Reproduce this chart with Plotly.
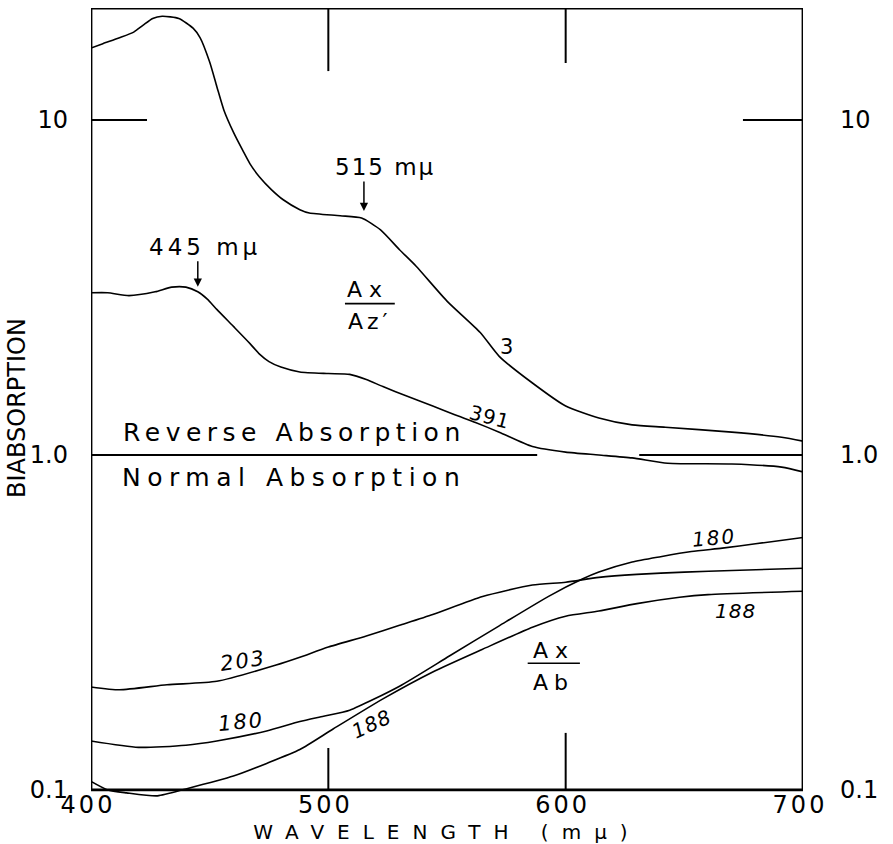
import math
import plotly.graph_objects as go

# ---------------- data ----------------
# Ax/Az' curves
wl_3 = [400, 405, 412, 418, 422, 426, 430, 437, 443, 446, 450, 453, 456, 460, 464, 467, 471, 476,
        481, 488, 492, 505, 514, 522, 530, 537, 550, 564, 572, 586, 600, 614, 628, 642, 670, 691, 700]
biab_3 = [16.4, 16.9, 17.6, 18.3, 19.2, 20.1, 20.4, 20.1, 18.8, 17.6, 14.9, 12.6, 10.7, 9.2, 8.1,
          7.4, 6.76, 6.2, 5.78, 5.4, 5.28, 5.18, 5.10, 4.7, 4.1, 3.66, 2.88, 2.32, 1.97, 1.64,
          1.40, 1.29, 1.23, 1.21, 1.17, 1.13, 1.10]

wl_391 = [400, 407, 416, 427, 434, 440, 445, 449, 453, 460, 467, 471, 475, 480, 488, 500, 509, 516,
          523, 533, 544, 553, 562, 572, 586, 600, 614, 628, 643, 670, 691, 700]
biab_391 = [3.05, 3.05, 2.99, 3.07, 3.17, 3.17, 3.07, 2.92, 2.72, 2.42, 2.15, 2.0, 1.9, 1.83,
            1.77, 1.75, 1.74, 1.68, 1.60, 1.50, 1.40, 1.32, 1.25, 1.17, 1.06, 1.02, 1.00, 0.98,
            0.945, 0.94, 0.92, 0.89]

# Ax/Ab curves
wl_203 = [400, 412, 432, 453, 478, 488, 500, 516, 530, 544, 565, 586, 600, 614, 630, 650, 670, 700]
biab_203 = [0.203, 0.199, 0.206, 0.211, 0.236, 0.249, 0.267, 0.288, 0.31, 0.334, 0.378, 0.409,
            0.417, 0.431, 0.44, 0.447, 0.452, 0.459]

wl_180 = [400, 420, 440, 453, 474, 488, 498, 509, 530, 551, 572, 593, 607, 614, 628, 640, 653, 666,
          680, 700]
biab_180 = [0.140, 0.134, 0.136, 0.140, 0.150, 0.160, 0.166, 0.173, 0.204, 0.251, 0.309, 0.379,
            0.426, 0.447, 0.479, 0.497, 0.515, 0.527, 0.543, 0.567]

wl_188 = [400, 407, 415, 428, 440, 460, 474, 488, 502, 523, 544, 565, 586, 600, 614, 630, 648, 660, 700]
biab_188 = [0.106, 0.100, 0.098, 0.096, 0.1007, 0.110, 0.120, 0.132, 0.152, 0.187, 0.225, 0.263,
            0.306, 0.330, 0.342, 0.36, 0.376, 0.383, 0.392]

x_ticks = [400, 500, 600, 700]
x_tick_labels = ["400", "500", "600", "700"]
y_ticks = [0.1, 1, 10]
y_tick_labels = ["0.1", "1.0", "10"]

# ---------------- styling ----------------
FONT = "DejaVu Sans"
Y_TOP = 21.6
Y_BOTTOM = 0.0946


def sp(text, ls):
    return f"<span style='letter-spacing:{ls}px'>{text}</span>"


fig = go.Figure()
line_style = dict(color="black", width=1.6, shape="spline", smoothing=0.6)
for wl, val, name in [(wl_3, biab_3, "3"), (wl_391, biab_391, "391"),
                      (wl_203, biab_203, "203"), (wl_180, biab_180, "180"),
                      (wl_188, biab_188, "188")]:
    fig.add_trace(go.Scatter(x=wl, y=val, mode="lines", line=line_style, name=name,
                             showlegend=False, hoverinfo="x+y+name"))

# carrier trace for the right-hand axis labels
fig.add_trace(go.Scatter(x=wl_3, y=biab_3, yaxis="y2", mode="lines", opacity=0,
                         showlegend=False, hoverinfo="skip"))

LY = math.log10
shapes = []
# frame (shape coordinates are data values on the log axis)
shapes.append(dict(type="rect", xref="x", yref="y", x0=400, x1=700, y0=0.1, y1=Y_TOP,
                   line=dict(color="black", width=2.8)))
tick = dict(color="black", width=2)
# inner tick marks
shapes += [
    dict(type="line", xref="x", yref="y", x0=400, x1=423.6, y0=10, y1=10, line=tick),
    dict(type="line", xref="x", yref="y", x0=674.7, x1=700, y0=10, y1=10, line=tick),
    dict(type="line", xref="x", yref="y", x0=400, x1=588, y0=1, y1=1, line=tick),
    dict(type="line", xref="x", yref="y", x0=631, x1=700, y0=1, y1=1, line=tick),
    dict(type="line", xref="x", yref="y", x0=500, x1=500, y0=Y_TOP, y1=14.0, line=tick),
    dict(type="line", xref="x", yref="y", x0=600, x1=600, y0=Y_TOP, y1=14.8, line=tick),
    dict(type="line", xref="x", yref="y", x0=500, x1=500, y0=0.1, y1=0.1334, line=tick),
    dict(type="line", xref="x", yref="y", x0=600, x1=600, y0=0.1, y1=0.148, line=tick),
]
# fraction bars
shapes += [
    dict(type="line", xref="x", yref="y", x0=507, x1=528, y0=2.83, y1=2.83,
         line=dict(color="black", width=1.6)),
    dict(type="line", xref="x", yref="y", x0=584, x1=606, y0=0.239, y1=0.239,
         line=dict(color="black", width=1.6)),
]

ann = []


def txt(x, y, text, size=22, angle=0, xanchor="center", italic=False):
    ann.append(dict(x=x, y=y, xref="x", yref="y", text=text, showarrow=False,
                    textangle=angle, xanchor=xanchor, yanchor="middle",
                    font=dict(family=FONT, size=size, color="black",
                              style="italic" if italic else "normal")))


# peak markers
txt(523.8, 0.860, sp("515 mμ", 2), size=23)
txt(448, 0.6215, sp("445 mμ", 4), size=23)
for xx, yy, ayy in [(515, LY(5.35), -31), (445, LY(3.18), -27)]:
    ann.append(dict(x=xx, y=yy, xref="x", yref="y", text="", showarrow=True, arrowhead=2,
                    arrowsize=1.1, arrowwidth=1.5, arrowcolor="black", ax=0, ay=ayy))

# fraction labels
txt(516.6, 0.4933, sp("Ax", 7), size=22)
txt(517.5, 0.398, sp("Az′", 4), size=22)
txt(595, -0.5827, sp("Ax", 7), size=22)
txt(595, -0.678, sp("Ab", 6), size=22)

# region labels
txt(412.6, 0.067, sp("Reverse Absorption", 5.5), size=25, xanchor="left")
txt(412.2, -0.067, sp("Normal Absorption", 6.5), size=25, xanchor="left")

# curve labels
txt(575.2, 0.3234, "3", size=21)
txt(568, 0.112, sp("391", 1), size=20, angle=15)
txt(464, -0.6155, sp("203", 2), size=21, angle=-8, italic=True)
txt(463, -0.797, sp("180", 2), size=21, angle=-5, italic=True)
txt(518.3, -0.803, sp("188", 1), size=20, angle=-25, italic=True)
txt(662.3, -0.249, sp("180", 2), size=20, angle=-5, italic=True)
txt(671.6, -0.466, sp("188", 1), size=20, italic=True)

# y axis title
ann.append(dict(x=-0.1039, y=0.4937, xref="paper", yref="paper", text=sp("BIABSORPTION", 0),
                showarrow=False, textangle=-90, xanchor="center", yanchor="middle",
                font=dict(family=FONT, size=24, color="black")))

tickfont = dict(family=FONT, size=24, color="black")
fig.update_layout(
    width=893, height=844,
    margin=dict(l=91, r=90, t=8, b=46),
    paper_bgcolor="white", plot_bgcolor="white",
    showlegend=False,
    shapes=shapes, annotations=ann,
    xaxis=dict(range=[400, 700], tickvals=x_ticks,
               ticktext=[sp(t, 3) for t in x_tick_labels],
               tickfont=tickfont, ticks="", showgrid=False, zeroline=False, showline=False,
               ticklabelstandoff=-10, ticklabelshift=-3,
               title=dict(text=sp("WAVELENGTH (mμ)", 13),
                          font=dict(family=FONT, size=20, color="black"),
                          standoff=8),
               automargin=False),
    yaxis=dict(type="log", range=[LY(Y_BOTTOM), LY(Y_TOP)], tickvals=y_ticks,
               ticktext=y_tick_labels, tickfont=tickfont, ticks="", showgrid=False,
               zeroline=False, showline=False, ticklabelstandoff=22,
               automargin=False),
    yaxis2=dict(type="log", range=[LY(Y_BOTTOM), LY(Y_TOP)], tickvals=y_ticks,
                ticktext=y_tick_labels, tickfont=tickfont, ticks="", showgrid=False,
                zeroline=False, showline=False, overlaying="y", side="right",
                ticklabelstandoff=36, automargin=False),
)

fig.write_html("out.html")
